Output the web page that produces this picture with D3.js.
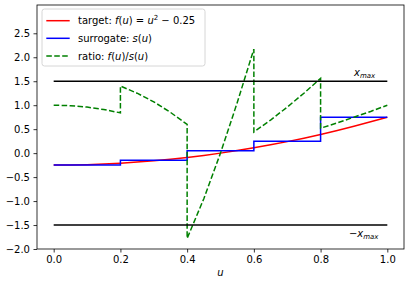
<!DOCTYPE html>
<html>
<head>
<meta charset="utf-8">
<script src="https://cdn.jsdelivr.net/npm/d3@7"></script>
<style>
  body { margin: 0; background: #fff; }
  svg { font-family: "DejaVu Sans", sans-serif; }
</style>
</head>
<body>
<svg id="chart" width="411" height="284"></svg>
<script>
// sample points along u
const uGrid = [0, 0.05, 0.1, 0.15, 0.2, 0.25, 0.3, 0.35, 0.4, 0.45, 0.5,
               0.55, 0.6, 0.65, 0.7, 0.75, 0.8, 0.85, 0.9, 0.95, 1.0];
// target f(u)
const targetVals = [-0.25, -0.2475, -0.24, -0.2275, -0.21, -0.1875, -0.16, -0.1275, -0.09, -0.0475, 0.0,
                    0.0525, 0.11, 0.1725, 0.24, 0.3125, 0.39, 0.4725, 0.56, 0.6525, 0.75];
// surrogate steps
const stepEdges = [0, 0.2, 0.4, 0.6, 0.8, 1.0];
const surrogateVals = [-0.25, -0.15, 0.05, 0.25, 0.75];
// ratio (dashed green), boundary u repeated for the jumps
const ratioU = [0, 0.05, 0.1, 0.15, 0.2,
                0.2, 0.25, 0.3, 0.35, 0.4,
                0.4, 0.45, 0.5, 0.55, 0.6,
                0.6, 0.65, 0.7, 0.75, 0.8,
                0.8, 0.85, 0.9, 0.95, 1.0];
const ratioVals = [1.0, 0.99, 0.96, 0.91, 0.84,
                   1.4, 1.25, 1.07, 0.85, 0.6,
                   -1.78, -0.95, 0.0, 1.05, 2.17,
                   0.44, 0.69, 0.96, 1.25, 1.56,
                   0.52, 0.63, 0.75, 0.87, 1.0];
const xMax = 1.5;
const xTicks = [0.0, 0.2, 0.4, 0.6, 0.8, 1.0];
const yTicks = [-2.0, -1.5, -1.0, -0.5, 0.0, 0.5, 1.0, 1.5, 2.0, 2.5];

const width = 411, height = 284;
const margin = { top: 5, right: 7, bottom: 35, left: 37 };
const svg = d3.select("#chart");

const x = d3.scaleLinear().domain([-0.05, 1.05]).range([margin.left, width - margin.right]);
const y = d3.scaleLinear().domain([-2.0, 3.09]).range([height - margin.bottom, margin.top]);

const fmt = d => d3.format(".1f")(d).replace("-", "\u2212");

// axes
const gx = svg.append("g").attr("transform", `translate(0,${height - margin.bottom})`)
  .call(d3.axisBottom(x).tickValues(xTicks).tickFormat(fmt).tickSizeOuter(0).tickSize(3.5).tickPadding(3.5));
const gy = svg.append("g").attr("transform", `translate(${margin.left},0)`)
  .call(d3.axisLeft(y).tickValues(yTicks).tickFormat(fmt).tickSizeOuter(0).tickSize(3.5).tickPadding(3.5));
[gx, gy].forEach(g => {
  g.selectAll("text").attr("font-size", 10).attr("fill", "#000").attr("font-family", "DejaVu Sans");
  g.selectAll("line").attr("stroke", "#000").attr("stroke-width", 0.8);
  g.select(".domain").remove();
});

const plot = svg.append("g");
const lineXY = d3.line().x(d => x(d[0])).y(d => y(d[1]));

// target
plot.append("path")
  .datum(uGrid.map((u, i) => [u, targetVals[i]]))
  .attr("d", lineXY.curve(d3.curveMonotoneX))
  .attr("fill", "none").attr("stroke", "#ff0000").attr("stroke-width", 1.5);

// surrogate
const stepPts = stepEdges.map((e, i) => [e, surrogateVals[Math.min(i, surrogateVals.length - 1)]]);
plot.append("path")
  .datum(stepPts)
  .attr("d", d3.line().x(d => x(d[0])).y(d => y(d[1])).curve(d3.curveStepAfter))
  .attr("fill", "none").attr("stroke", "#0000ff").attr("stroke-width", 1.5);

// ratio
plot.append("path")
  .datum(ratioU.map((u, i) => [u, ratioVals[i]]))
  .attr("d", d3.line().x(d => x(d[0])).y(d => y(d[1])))
  .attr("fill", "none").attr("stroke", "#008000").attr("stroke-width", 1.5)
  .attr("stroke-dasharray", "5.55,2.4");

// +/- x_max lines
[xMax, -xMax].forEach(v => {
  plot.append("line")
    .attr("x1", x(0)).attr("x2", x(1))
    .attr("y1", y(v)).attr("y2", y(v))
    .attr("stroke", "#000").attr("stroke-width", 1.5);
});

function xmaxLabel(px, py, neg) {
  const t = svg.append("text").attr("x", px).attr("y", py).attr("font-size", 10).attr("fill", "#000");
  if (neg) t.append("tspan").text("\u2212");
  t.append("tspan").attr("font-style", "italic").text("x");
  t.append("tspan").attr("font-style", "italic").attr("font-size", 7).attr("dy", 2).text("max");
}
xmaxLabel(x(0.9), y(1.6), false);
xmaxLabel(x(0.885), y(-1.76), true);

// spines
svg.append("rect")
  .attr("x", margin.left).attr("y", margin.top)
  .attr("width", width - margin.left - margin.right)
  .attr("height", height - margin.top - margin.bottom)
  .attr("fill", "none").attr("stroke", "#000").attr("stroke-width", 0.8);

// x label
svg.append("text")
  .attr("x", (margin.left + width - margin.right) / 2).attr("y", 276)
  .attr("text-anchor", "middle").attr("font-size", 10).attr("font-style", "italic")
  .text("u");

// legend
const lg = svg.append("g").attr("transform", "translate(42,9)");
lg.append("rect").attr("width", 163).attr("height", 57).attr("rx", 2.5)
  .attr("fill", "#fff").attr("fill-opacity", 0.8).attr("stroke", "#cccccc").attr("stroke-width", 0.8);

const legendItems = [
  { color: "#ff0000", dash: null, parts: [["target: "], ["f", "i"], ["("], ["u", "i"], [") = "], ["u", "i"], ["2", "sup"], [" \u2212 0.25"]] },
  { color: "#0000ff", dash: null, parts: [["surrogate: "], ["s", "i"], ["("], ["u", "i"], [")"]] },
  { color: "#008000", dash: "5.55,2.4", parts: [["ratio: "], ["f", "i"], ["("], ["u", "i"], [")/"], ["s", "i"], ["("], ["u", "i"], [")"]] }
];
legendItems.forEach((it, i) => {
  const cy = 11.7 + i * 17.6;
  lg.append("line").attr("x1", 4.3).attr("x2", 27.7).attr("y1", cy).attr("y2", cy)
    .attr("stroke", it.color).attr("stroke-width", 1.5)
    .attr("stroke-dasharray", it.dash);
  const t = lg.append("text").attr("x", 36).attr("y", cy + 3.6).attr("font-size", 10).attr("fill", "#000");
  let raised = false;
  it.parts.forEach(p => {
    const ts = t.append("tspan").text(p[0]);
    if (p[1] === "i") ts.attr("font-style", "italic");
    if (p[1] === "sup") { ts.attr("font-size", 7).attr("dy", -4); raised = true; }
    else if (raised) { ts.attr("dy", 4); raised = false; }
  });
});
</script>
</body>
</html>
